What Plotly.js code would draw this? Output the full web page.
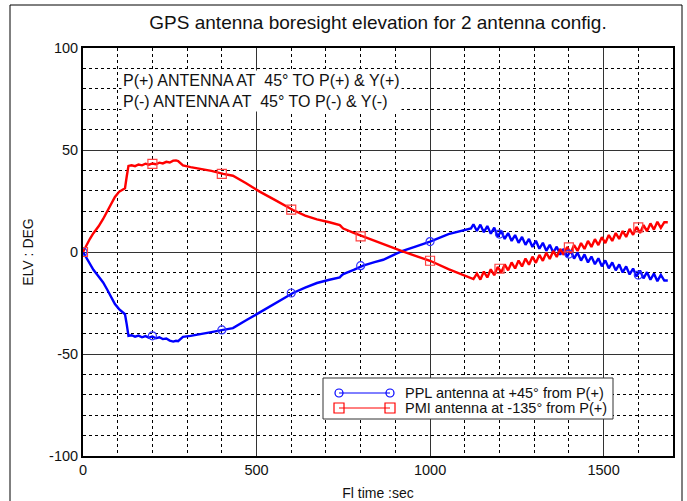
<!DOCTYPE html>
<html>
<head>
<meta charset="utf-8">
<script src="https://cdn.plot.ly/plotly-3.0.1.min.js"></script>
<style>html,body{margin:0;padding:0;background:#fff;}#chart{width:687px;height:501px;}</style>
</head>
<body>
<div id="chart"></div>
<script>
// ---- data ----
const timeSec = [0,10,20,30,45,58,70,80,92,104,116,121,126,131,140,150,160,170,180,190,
  200,210,220,230,240,250,260,268,274,281,288,310,340,370,404,432,470,509,550,605,
  640,674,710,740,745,750,780,807,840,865,900,919,960,1000,1053,1118,
  1125,1135,1145,1155,1165,1175,1185,1195,1205,1215,1225,1235,1245,1255,1265,1275,1285,1295,1305,1315,
  1325,1335,1345,1355,1365,1375,1385,1395,1405,1415,1425,1435,1445,1455,1465,1475,1485,1495,1505,1515,
  1525,1535,1545,1555,1565,1575,1585,1595,1605,1615,1625,1635,1645,1655,1665,1675,1685];

const pplElev = [0,-3.0,-6.0,-8.7,-12.0,-14.9,-18.5,-22.0,-25.5,-28.0,
  -29.6,-30.5,-35.5,-41.1,-40.8,-41.5,-41.0,-41.8,-41.2,-42.0,
  -41.4,-42.3,-41.8,-42.7,-42.4,-43.4,-43.9,-43.5,-43.7,-42.5,
  -41.6,-41.1,-40.3,-39.3,-38.2,-37.3,-33.5,-29.6,-25.5,-20.1,
  -17.5,-15.2,-13.6,-12.4,-11.5,-10.8,-8.8,-6.7,-5.0,-3.8,
  -1.0,0.4,2.8,5.1,8.8,11.6,
  13.6,10.3,13.4,9.7,12.7,9.0,11.9,7.5,10.3,6.4,
  9.3,5.4,8.3,4.5,7.4,3.5,6.4,2.5,5.5,1.6,
  4.5,0.6,3.5,-0.3,2.6,-1.3,1.6,-2.3,0.7,-3.2,
  -0.3,-4.2,-1.2,-5.1,-2.2,-6.0,-3.1,-7.0,-4.1,-8.0,
  -5.1,-9.0,-6.1,-10.0,-7.1,-11.0,-8.1,-12.0,-9.1,-12.9,
  -9.9,-13.6,-10.6,-14.3,-11.2,-14.0,-14.0];

const pmiElev = [0,3.5,6.5,9.2,12.6,16.2,20.3,23.6,27.0,29.5,
  30.8,31.3,37.0,42.2,42.5,42.1,42.9,42.5,43.3,42.8,
  43.4,43.0,43.8,43.4,44.2,43.9,44.8,44.9,44.6,43.6,
  42.4,41.6,40.8,39.8,38.3,37.4,33.7,29.6,25.8,20.6,
  17.8,16.0,14.6,13.2,12.3,11.5,9.4,7.6,5.6,4.1,
  1.6,0.4,-2.0,-4.3,-8.4,-12.9,
  -13.3,-10.6,-13.5,-9.6,-12.5,-8.5,-11.4,-7.3,-10.0,-6.1,
  -9.0,-5.1,-8.1,-4.2,-7.1,-3.2,-6.2,-2.3,-5.3,-1.4,
  -4.3,-0.4,-3.4,0.5,-2.4,1.5,-1.4,2.5,-0.5,3.4,
  0.5,4.4,1.5,5.4,2.5,6.3,3.4,7.3,4.4,8.3,
  5.4,9.3,6.4,10.3,7.4,11.3,8.4,12.3,9.3,13.2,
  10.2,14.0,11.0,14.8,11.8,14.6,14.6];

const markerTime = [0,200,400,600,800,1000,1200,1400,1600];
const pplMarkers = [0,-41.1,-38.2,-20.1,-6.7,5.1,8.8,-1.0,-11.3];
const pmiMarkers = [0,43.2,38.3,20.8,7.7,-4.3,-8.2,2.3,12.1];

const xTickVals = [0,500,1000,1500];
const xTickText = ['0','500','1000','1500'];
const yTickVals = [-100,-50,0,50,100];
const yTickText = ['-100','-50','0','50','100'];

const titleText = 'GPS antenna boresight elevation for 2 antenna config.';
const xTitle = 'Fl time :sec';
const yTitle = 'ELV : DEG';
const noteText = 'P(+) ANTENNA AT  45\u00B0 TO P(+) &amp; Y(+)<br>P(-) ANTENNA AT  45\u00B0 TO P(-) &amp; Y(-)';
const pplName = 'PPL antenna at +45\u00B0 from P(+)';
const pmiName = 'PMI antenna at -135\u00B0 from P(+)';

// ---- layout geometry (pixels) ----
const W = 687, H = 501;
const L = 83, R = 673, T = 48, B = 456;
const px = x => (x - L) / (R - L);
const py = y => (B - y) / (B - T);
const FONT = 'Liberation Sans, Arial, Helvetica, sans-serif';

const traces = [
  {x: timeSec, y: pplElev, type: 'scatter', mode: 'lines', line: {color: '#0000ff', width: 2.4}, showlegend: false, hoverinfo: 'skip'},
  {x: timeSec, y: pmiElev, type: 'scatter', mode: 'lines', line: {color: '#ff0000', width: 2.4}, showlegend: false, hoverinfo: 'skip'},
  {x: markerTime, y: pplMarkers, type: 'scatter', mode: 'markers', marker: {symbol: 'circle-open', size: 8, color: '#3030ff', line: {width: 1.2}}, showlegend: false},
  {x: markerTime, y: pmiMarkers, type: 'scatter', mode: 'markers', marker: {symbol: 'square-open', size: 9, color: '#ff4040', line: {width: 1.2}}, showlegend: false}
];

const legY1 = py(393), legY2 = py(408);
const lx0 = px(339), lx1 = px(390);
function circ(xa, ya, c) {
  return {type: 'circle', xref: 'paper', yref: 'paper', xsizemode: 'pixel', ysizemode: 'pixel',
    xanchor: xa, yanchor: ya, x0: -4, x1: 4, y0: -4, y1: 4, line: {color: c, width: 1.2}, fillcolor: 'rgba(0,0,0,0)'};
}
function sq(xa, ya, c) {
  return {type: 'rect', xref: 'paper', yref: 'paper', xsizemode: 'pixel', ysizemode: 'pixel',
    xanchor: xa, yanchor: ya, x0: -5, x1: 5, y0: -5, y1: 5, line: {color: c, width: 1.2}, fillcolor: 'rgba(0,0,0,0)'};
}

const shapes = [
  // outer figure frame
  {type: 'rect', xref: 'paper', yref: 'paper', x0: px(10), x1: px(682), y0: py(530), y1: py(5), line: {color: '#000', width: 1}, layer: 'below'},
  // legend box
  {type: 'rect', xref: 'paper', yref: 'paper', x0: px(323), x1: px(613), y0: py(419), y1: py(378), line: {color: '#333', width: 1}, fillcolor: '#fff'},
  {type: 'line', xref: 'paper', yref: 'paper', x0: lx0, x1: lx1, y0: legY1, y1: legY1, line: {color: '#0000ff', width: 1}},
  {type: 'line', xref: 'paper', yref: 'paper', x0: lx0, x1: lx1, y0: legY2, y1: legY2, line: {color: '#ff0000', width: 1}},
  circ(lx0, legY1, '#0000ff'), circ(lx1, legY1, '#0000ff'),
  sq(lx0, legY2, '#ff0000'), sq(lx1, legY2, '#ff0000')
];

const annotations = [
  {xref: 'paper', yref: 'paper', x: px(121), y: py(91), xanchor: 'left', yanchor: 'middle', align: 'left',
   text: noteText, showarrow: false, bgcolor: '#fff', borderpad: 1, font: {family: FONT, size: 16, color: '#111'}},
  {xref: 'paper', yref: 'paper', x: px(403), y: legY1, xanchor: 'left', yanchor: 'middle', text: pplName, showarrow: false, font: {family: FONT, size: 14.5, color: '#111'}},
  {xref: 'paper', yref: 'paper', x: px(403), y: legY2, xanchor: 'left', yanchor: 'middle', text: pmiName, showarrow: false, font: {family: FONT, size: 14.5, color: '#111'}}
];

const gridDash = '3px,3px';
const layout = {
  width: W, height: H,
  margin: {l: L, r: W - R, t: T, b: H - B, pad: 0},
  paper_bgcolor: '#fff', plot_bgcolor: '#fff',
  font: {family: FONT, size: 14.5, color: '#111'},
  showlegend: false,
  title: {text: titleText, font: {family: FONT, size: 19, color: '#111'}, x: 0.5, xref: 'paper', y: 1 - 22 / H, yref: 'container', yanchor: 'middle', xanchor: 'center'},
  xaxis: {
    range: [0, 1700], tickmode: 'array', tickvals: xTickVals, ticktext: xTickText,
    showgrid: true, gridcolor: '#333', gridwidth: 1, zeroline: false,
    minor: {tick0: 0, dtick: 100, showgrid: true, gridcolor: '#000', griddash: gridDash, gridwidth: 1, ticks: ''},
    showline: true, linecolor: '#000', linewidth: 2, mirror: true, ticks: '',
    tickfont: {family: FONT, size: 14.5, color: '#111'},
    title: {text: xTitle, font: {family: FONT, size: 14, color: '#111'}, standoff: 11},
    automargin: false, fixedrange: true
  },
  yaxis: {
    range: [-100, 100], tickmode: 'array', tickvals: yTickVals, ticktext: yTickText,
    showgrid: true, gridcolor: '#333', gridwidth: 1, zeroline: false,
    minor: {tick0: 0, dtick: 10, showgrid: true, gridcolor: '#000', griddash: gridDash, gridwidth: 1, ticks: ''},
    showline: true, linecolor: '#000', linewidth: 2, mirror: true, ticks: '',
    tickfont: {family: FONT, size: 14.5, color: '#111'},
    title: {text: yTitle, font: {family: FONT, size: 14, color: '#111'}, standoff: 12},
    automargin: false, fixedrange: true
  },
  shapes: shapes,
  annotations: annotations
};

Plotly.newPlot('chart', traces, layout, {staticPlot: true, displayModeBar: false});
</script>
</body>
</html>
